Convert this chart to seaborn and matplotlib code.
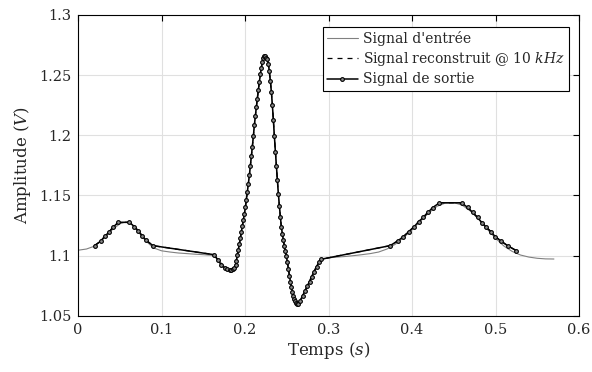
import numpy as np
import pandas as pd
import seaborn as sns
import matplotlib
matplotlib.use("Agg")
import matplotlib.pyplot as plt

# input signal (gray)
in_t = [0.000, 0.010, 0.020, 0.030, 0.040, 0.050, 0.055, 0.060, 0.065, 0.070,
        0.080, 0.090, 0.100, 0.110, 0.120, 0.130, 0.140, 0.150, 0.160, 0.165,
        0.170, 0.175, 0.180, 0.184, 0.188, 0.191, 0.195, 0.200, 0.205, 0.210,
        0.215, 0.220, 0.2235, 0.227, 0.231, 0.235, 0.239, 0.243, 0.247, 0.251,
        0.255, 0.259, 0.263, 0.267, 0.271, 0.275, 0.279, 0.283, 0.287, 0.291,
        0.295, 0.300, 0.310, 0.320, 0.330, 0.340, 0.350, 0.360, 0.370, 0.380,
        0.390, 0.400, 0.410, 0.420, 0.430, 0.440, 0.450, 0.460, 0.470, 0.480,
        0.490, 0.500, 0.510, 0.520, 0.530, 0.540, 0.550, 0.560, 0.570]
in_v = [1.1045, 1.1055, 1.1080, 1.1140, 1.1210, 1.1265, 1.1275, 1.1275, 1.1255, 1.1215,
        1.1130, 1.1065, 1.1040, 1.1030, 1.1022, 1.1017, 1.1012, 1.1008, 1.1003, 1.0985,
        1.0950, 1.0910, 1.0885, 1.0875, 1.0895, 1.1000, 1.1170, 1.1380, 1.1660, 1.2010,
        1.2340, 1.2600, 1.2655, 1.2625, 1.2400, 1.2000, 1.1590, 1.1260, 1.1070, 1.0930,
        1.0750, 1.0640, 1.0598, 1.0640, 1.0698, 1.0757, 1.0822, 1.0880, 1.0925, 1.0960,
        1.0975, 1.0982, 1.0988, 1.0993, 1.1000, 1.1008, 1.1017, 1.1030, 1.1055, 1.1095,
        1.1150, 1.1215, 1.1285, 1.1355, 1.1410, 1.1437, 1.1440, 1.1420, 1.1370, 1.1300,
        1.1220, 1.1145, 1.1080, 1.1035, 1.1005, 1.0988, 1.0978, 1.0973, 1.0972]

# output signal samples (markers)
out_t = [0.0196, 0.0268, 0.0323, 0.0371, 0.0423, 0.0483, 0.0615, 0.0675, 0.0722, 0.0766,
         0.0813, 0.0897,
         0.1627, 0.1675, 0.1715, 0.1755, 0.1785, 0.1815, 0.1835, 0.1854, 0.1872, 0.1886,
         0.1895, 0.1907, 0.1919, 0.1931, 0.1943, 0.1955, 0.1967, 0.1979, 0.1991, 0.2003,
         0.2015, 0.2027, 0.2039, 0.2051, 0.2063, 0.2075, 0.2087, 0.2099, 0.2111, 0.2123,
         0.2135, 0.2147, 0.2159, 0.2171, 0.2183, 0.2195, 0.2207, 0.2219, 0.2231, 0.2243,
         0.2255, 0.2267, 0.2279, 0.2291, 0.2303, 0.2315, 0.2327, 0.2339, 0.2351, 0.2363,
         0.2375, 0.2387, 0.2399, 0.2411, 0.2423, 0.2435, 0.2447, 0.2459, 0.2471, 0.2483,
         0.2495, 0.2507, 0.2519, 0.2531, 0.2543, 0.2555, 0.2567, 0.2579, 0.2591, 0.2603,
         0.2615, 0.2627, 0.2639, 0.2660, 0.2688, 0.2716, 0.2744, 0.2772, 0.2800, 0.2828,
         0.2856, 0.2884, 0.2912,
         0.3737, 0.3828, 0.3896, 0.3960, 0.4024, 0.4079, 0.4135, 0.4190, 0.4247, 0.4327,
         0.4593, 0.4665, 0.4725, 0.4785, 0.4837, 0.4885, 0.4945, 0.4997, 0.5065, 0.5144,
         0.5251]
out_v = [1.1083, 1.1119, 1.1163, 1.1197, 1.1240, 1.1277, 1.1277, 1.1240, 1.1205, 1.1166,
         1.1128, 1.1083,
         1.1008, 1.0964, 1.0923, 1.0896, 1.0886, 1.0881, 1.0880, 1.0887, 1.0900, 1.0923,
         1.0955, 1.1005, 1.1050, 1.1097, 1.1145, 1.1195, 1.1247, 1.1295, 1.1345, 1.1400,
         1.1465, 1.1530, 1.1598, 1.1668, 1.1745, 1.1825, 1.1905, 1.1990, 1.2085, 1.2160,
         1.2235, 1.2305, 1.2375, 1.2445, 1.2505, 1.2560, 1.2610, 1.2645, 1.2658, 1.2655,
         1.2640, 1.2630, 1.2595, 1.2530, 1.2450, 1.2360, 1.2250, 1.2125, 1.1990, 1.1865,
         1.1745, 1.1625, 1.1510, 1.1410, 1.1320, 1.1235, 1.1180, 1.1128, 1.1078, 1.1035,
         1.0995, 1.0945, 1.0890, 1.0835, 1.0785, 1.0738, 1.0700, 1.0668, 1.0640, 1.0620,
         1.0607, 1.0600, 1.0602, 1.0625, 1.0665, 1.0705, 1.0745, 1.0784, 1.0825, 1.0868,
         1.0909, 1.0945, 1.0970,
         1.1083, 1.1122, 1.1158, 1.1199, 1.1240, 1.1282, 1.1318, 1.1360, 1.1398, 1.1439,
         1.1439, 1.1401, 1.1360, 1.1318, 1.1274, 1.1240, 1.1199, 1.1158, 1.1122, 1.1083,
         1.1041]

x_ticks = [0, 0.1, 0.2, 0.3, 0.4, 0.5, 0.6]
y_ticks = [1.05, 1.1, 1.15, 1.2, 1.25, 1.3]

sns.set_style("white")
plt.rcParams["font.family"] = ["DejaVu Serif"]
plt.rcParams["mathtext.fontset"] = "dejavuserif"

fig = plt.figure(figsize=(5.92, 3.72), dpi=100)
ax = fig.add_axes([0.132, 0.151, 0.846, 0.809])

df_in = pd.DataFrame({"t": in_t, "v": in_v})
df_out = pd.DataFrame({"t": out_t, "v": out_v})

sns.lineplot(data=df_in, x="t", y="v", sort=False, color="0.5", linewidth=0.8,
             ax=ax, label="Signal d'entrée")
sns.lineplot(data=df_out, x="t", y="v", sort=False, color="black", linewidth=0.9,
             linestyle=(0, (4, 4)), ax=ax, label=r"Signal reconstruit @ 10 $\mathit{kHz}$")
sns.lineplot(data=df_out, x="t", y="v", sort=False, color="black", linewidth=1.1,
             marker="o", markersize=2.7, markerfacecolor="0.55", markeredgecolor="black",
             markeredgewidth=0.8, ax=ax, label="Signal de sortie")

ax.set_xlim(0, 0.6)
ax.set_ylim(1.05, 1.3)
ax.set_xticks(x_ticks)
ax.set_xticklabels(["0", "0.1", "0.2", "0.3", "0.4", "0.5", "0.6"])
ax.set_yticks(y_ticks)
ax.set_yticklabels(["1.05", "1.1", "1.15", "1.2", "1.25", "1.3"])
ax.grid(True, color="0.88", linewidth=0.8)
ax.tick_params(direction="in", length=4, width=0.8, top=True, right=True,
               labelsize=10.5, colors="black", labelcolor="0.15", pad=5)
for s in ax.spines.values():
    s.set_visible(True)
    s.set_color("black")
    s.set_linewidth(0.8)

ax.set_xlabel(r"Temps $\mathit{(s)}$", fontsize=12, labelpad=2, color="0.15")
ax.set_ylabel(r"Amplitude $\mathit{(V)}$", fontsize=12, labelpad=4, color="0.15")

leg = ax.legend(loc="upper right", bbox_to_anchor=(0.98, 0.96), fontsize=10,
                frameon=True, fancybox=False, framealpha=1, edgecolor="black",
                borderpad=0.3, labelspacing=0.3, handlelength=2.2, handletextpad=0.4,
                borderaxespad=0)
leg.get_frame().set_linewidth(0.8)

fig.savefig("out.png", dpi=100)
